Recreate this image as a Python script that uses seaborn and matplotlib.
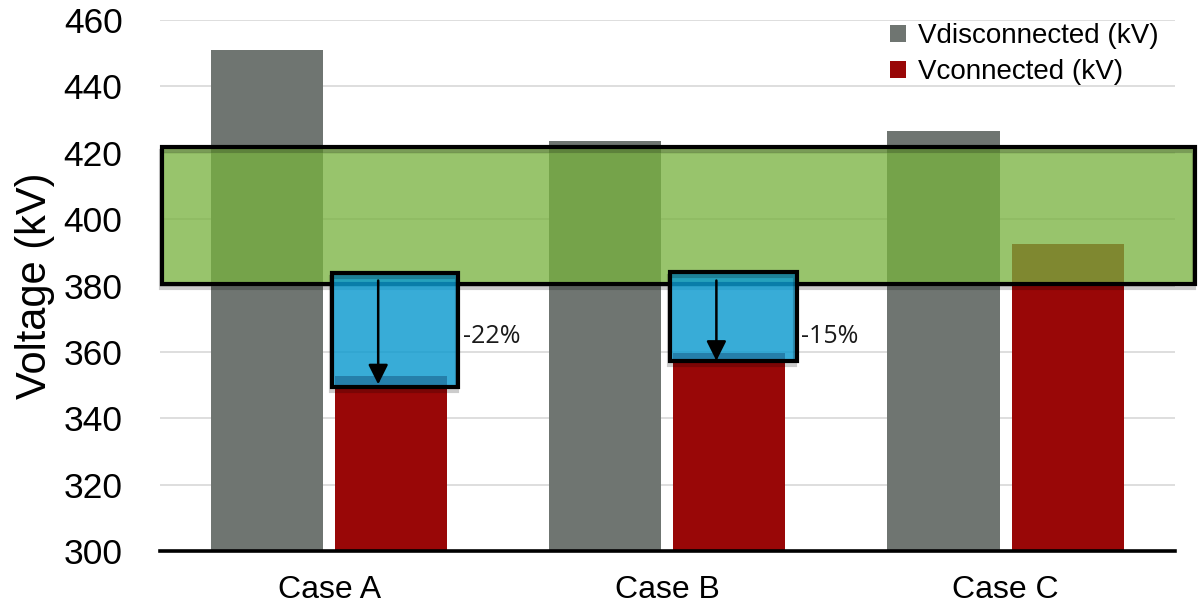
import matplotlib
matplotlib.use("Agg")
import matplotlib.pyplot as plt
import matplotlib.patheffects as pe
from matplotlib.patches import Rectangle
import pandas as pd
import seaborn as sns

# Bus voltages per case
cases = ["Case A", "Case B", "Case C"]
v_disconnected = [451.0, 423.5, 426.5]
v_connected = [352.7, 359.8, 392.5]
series_names = ["Vdisconnected (kV)", "Vconnected (kV)"]

# Acceptable operating band and the voltage drops that fall below it
band_low, band_high = 380.5, 421.7
drop_cases = ["Case A", "Case B"]
drop_box_low = [349.4, 357.2]
drop_box_high = [383.8, 384.0]
drop_labels = ["-22%", "-15%"]

y_ticks = [300, 320, 340, 360, 380, 400, 420, 440, 460]

df = pd.DataFrame({
    "case": cases * 2,
    "series": [series_names[0]] * len(cases) + [series_names[1]] * len(cases),
    "voltage": v_disconnected + v_connected,
})

sns.set_theme(style="white")
plt.rcParams["font.family"] = ["Liberation Sans", "DejaVu Sans"]

fig = plt.figure(figsize=(11.98, 6.07), dpi=100)
ax = fig.add_axes([0.1336, 0.0923, 0.9805 - 0.1336, 0.967 - 0.0923])

palette = {series_names[0]: "#6F7571", series_names[1]: "#990707"}
sns.barplot(data=df, x="case", y="voltage", hue="series", order=cases,
            hue_order=series_names, palette=palette, width=0.734, gap=0.097,
            saturation=1, ax=ax, zorder=2, linewidth=0)

ax.set_xlim(-0.5, 2.5)
ax.set_ylim(300, 460)
ax.set_yticks(y_ticks)
ax.yaxis.grid(True, color="#D4D4D4", linewidth=1.1, zorder=0)
ax.set_axisbelow(True)
for side in ["top", "right", "left"]:
    ax.spines[side].set_visible(False)
ax.spines["bottom"].set_color("black")
ax.spines["bottom"].set_linewidth(2.6)
ax.spines["bottom"].set_zorder(6)
ax.tick_params(axis="y", length=0, pad=27, labelsize=25.5, labelcolor="black")
ax.tick_params(axis="x", length=0, pad=17, labelsize=23, labelcolor="black")
ax.set_xlabel("")
ax.set_ylabel("Voltage (kV)", fontsize=30, color="black", labelpad=6)

# Outline drop shadow (stroke only, so fills keep their own colour)
shadow = [pe.SimpleLineShadow(offset=(-1, -3), shadow_color="black", alpha=0.2),
          pe.Normal()]

# Acceptable band, extending slightly past the plot's right edge
band_x0, band_x1 = -0.494, 2.56
ax.add_patch(Rectangle((band_x0, band_low), band_x1 - band_x0, band_high - band_low,
                       facecolor="#78B23E", alpha=0.76, edgecolor="none",
                       zorder=3, clip_on=False))
ax.add_patch(Rectangle((band_x0, band_low), band_x1 - band_x0, band_high - band_low,
                       facecolor="none", edgecolor="black", linewidth=3,
                       zorder=3.1, clip_on=False, path_effects=shadow))

# Drop boxes with arrows from the band down to the connected voltage
for case, lo, hi, lab in zip(drop_cases, drop_box_low, drop_box_high, drop_labels):
    i = cases.index(case)
    x0, x1 = i + 0.009, i + 0.382
    ax.add_patch(Rectangle((x0, lo), x1 - x0, hi - lo, facecolor="#0C9ACF",
                           alpha=0.82, edgecolor="none", zorder=4))
    ax.add_patch(Rectangle((x0, lo), x1 - x0, hi - lo, facecolor="none",
                           edgecolor="black", linewidth=3, zorder=4.1,
                           path_effects=shadow))
    xa = i + 0.145
    ax.annotate("", xy=(xa, v_connected[i] - 2.5), xytext=(xa, band_low + 1.0),
                arrowprops=dict(arrowstyle="-|>", mutation_scale=30, lw=1.8,
                                color="black", shrinkA=0, shrinkB=0),
                zorder=5)
    ax.text(i + 0.395, 364.5, lab, fontsize=18, family=["Open Sans", "DejaVu Sans"],
            color="#1A1A1A", va="center", ha="left", zorder=5)

handles, labels = ax.get_legend_handles_labels()
leg = ax.legend(handles, labels, loc="upper right", bbox_to_anchor=(0.998, 1.02),
                frameon=False, fontsize=20, handlelength=0.55, handleheight=0.55,
                handletextpad=0.45, labelspacing=0.35, borderaxespad=0.1)
for t in leg.get_texts():
    t.set_color("black")

fig.savefig("out.png", dpi=100)
